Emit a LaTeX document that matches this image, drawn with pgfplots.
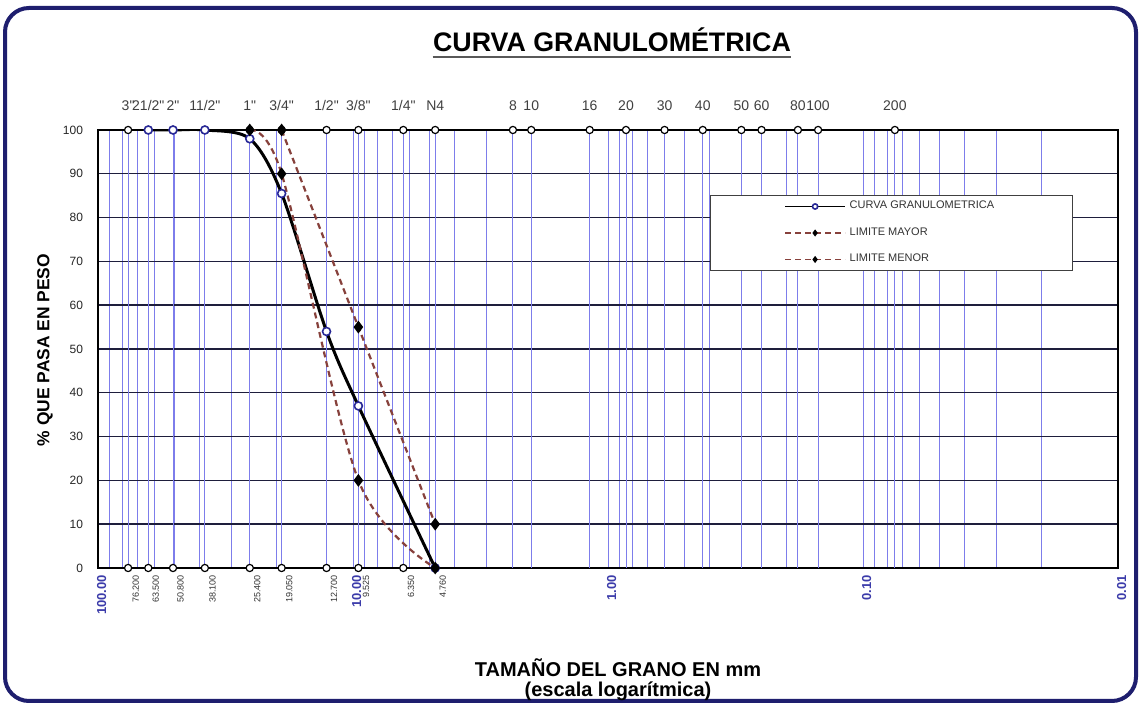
\documentclass[border=0pt]{standalone}
\usepackage{fontspec}
\setmainfont{Liberation Sans}
\newfontfamily\qfont{Liberation Sans}
\usepackage{pgfplots}
\pgfplotsset{compat=1.18}
\definecolor{navyframe}{RGB}{30,30,110}
\definecolor{tickblue}{RGB}{60,60,170}
\definecolor{minorblue}{RGB}{125,125,235}
\definecolor{gridnavy}{RGB}{30,30,60}
\definecolor{sievegray}{RGB}{85,85,85}
\definecolor{limbrown}{RGB}{135,65,60}
\definecolor{markblue}{RGB}{40,40,150}
\newcommand{\qq}{{\qfont\symbol{34}}}
\begin{document}
\begin{tikzpicture}[x=1pt,y=1pt]
\useasboundingbox (0,0) rectangle (570,352.5);
\draw[navyframe, line width=2pt, rounded corners=12pt, fill=white] (2.5,2) rectangle (568,348.5);
\node[inner sep=0pt, anchor=base] (T) at (306,326.5) {\fontsize{13.4}{15}\selectfont\bfseries CURVA GRANULOMÉTRICA};
\draw[black!65, line width=1.4pt] ([yshift=-2.5pt]T.base west) -- ([yshift=-2.5pt]T.base east);
\node[rotate=90, inner sep=0pt] at (22.5,177.5) {\fontsize{8.7}{10}\selectfont\bfseries \% QUE PASA EN PESO};
\node[inner sep=0pt, anchor=base] at (309,14) {\fontsize{10}{12}\selectfont\bfseries TAMAÑO DEL GRANO EN mm};
\node[inner sep=0pt, anchor=base] at (309,4.3) {\fontsize{10}{12}\selectfont\bfseries (escala logarítmica)};

\begin{axis}[
  at={(49pt,68.5pt)}, anchor=south west,
  width=510pt, height=219pt, scale only axis,
  xmode=log, x dir=reverse, xmin=0.01, xmax=100,
  ymin=0, ymax=100, ytick={0,10,...,100},
  /pgf/number format/assume math mode=true,
  yticklabel style={font=\fontsize{6}{7}\selectfont, text=black!85, xshift=-4pt},
  xtick={0.01,0.1,1,10,100},
  xticklabels={0.01,0.10,1.00,10.00,100.00},
  xticklabel style={rotate=90, anchor=east, font=\fontsize{6.5}{7}\selectfont\bfseries, text=tickblue, yshift=-1.8pt},
  minor xtick={0.02,0.03,0.04,0.05,0.06,0.07,0.08,0.09,0.2,0.3,0.4,0.5,0.6,0.7,0.8,0.9,2,3,4,5,6,7,8,9,20,30,40,50,60,70,80,90},
  extra x ticks={76.2,63.5,50.8,38.1,25.4,19.05,12.7,9.525,6.35,4.76,2.36,2,1.18,0.85,0.6,0.425,0.3,0.25,0.18,0.15,0.075},
  extra x tick labels={76.200,63.500,50.800,38.100,25.400,19.050,12.700,9.525,6.350,4.760,,,,,,,,,,,},
  extra x tick style={grid=major, major grid style={sievegray, line width=0.7pt},
    xticklabel style={font=\fontsize{4.5}{5}\selectfont\mdseries, text=black!80, yshift=-2pt}},
  xmajorgrids, xminorgrids, ymajorgrids,
  major x grid style={minorblue, line width=0.5pt},
  minor grid style={minorblue, line width=0.5pt},
  major y grid style={gridnavy, line width=0.7pt},
  major tick length=0pt, minor tick length=0pt,
  axis line style={black, line width=0.9pt},
  legend style={at={(0.6,0.8516)}, anchor=north west, draw=black!75, line width=0.5pt,
    inner xsep=37pt, inner ysep=0.5pt, row sep=3.25pt,
    nodes={minimum height=10pt, inner ysep=0pt, font=\fontsize{5.5}{6}\selectfont, text=black!80}},
  legend cell align=left,
  legend image code/.code={\draw[mark repeat=2,mark phase=2,#1] plot coordinates {(0pt,0pt) (15pt,0pt) (30pt,0pt)};},
  legend image post style={line width=0.6pt, mark size=1.3pt},
]
% sieve markers along top and bottom
\addplot[forget plot, only marks, mark=*, mark size=1.8pt, mark options={fill=white, draw=black, line width=0.6pt}]
  coordinates {(76.2,100)(63.5,100)(50.8,100)(38.1,100)(25.4,100)(19.05,100)(12.7,100)(9.525,100)(6.35,100)(4.76,100)
  (2.36,100)(2,100)(1.18,100)(0.85,100)(0.6,100)(0.425,100)(0.3,100)(0.25,100)(0.18,100)(0.15,100)(0.075,100)};
\addplot[forget plot, only marks, mark=*, mark size=1.8pt, mark options={fill=white, draw=black, line width=0.6pt}]
  coordinates {(76.2,0)(63.5,0)(50.8,0)(38.1,0)(25.4,0)(19.05,0)(12.7,0)(9.525,0)(6.35,0)(4.76,0)};
% curve
\addplot[black, line width=1.5pt, smooth, mark=*, mark size=2pt, mark options={fill=white, draw=markblue, line width=0.8pt, solid}]
  coordinates {(63.5,100)(50.8,100)(38.1,100)(25.4,98)(19.05,85.5)(12.7,54)(9.525,37)(4.76,0)};
\addlegendentry{CURVA GRANULOMETRICA}
\addplot[limbrown, dashed, dash pattern=on 3pt off 2pt, line width=1.1pt, smooth, mark=diamond*, mark size=2.3pt, mark options={solid, fill=black, draw=black}]
  coordinates {(19.05,100)(9.525,55)(4.76,10)};
\addlegendentry{LIMITE MAYOR}
\addplot[limbrown, dashed, dash pattern=on 3pt off 2pt, line width=1.1pt, smooth, mark=diamond*, mark size=2.3pt, mark options={solid, fill=black, draw=black}]
  coordinates {(25.4,100)(19.05,90)(9.525,20)(4.76,0)};
\addlegendentry{LIMITE MENOR}
\end{axis}

\begin{axis}[
  at={(49pt,68.5pt)}, anchor=south west,
  width=510pt, height=219pt, scale only axis,
  xmode=log, x dir=reverse, xmin=0.01, xmax=100,
  ymin=0, ymax=100, ytick=\empty,
  axis line style={draw=none}, major tick length=0pt,
  xticklabel pos=upper,
  xtick={76.2,63.5,50.8,38.1,25.4,19.05,12.7,9.525,6.35,4.76,2.36,2,1.18,0.85,0.6,0.425,0.3,0.25,0.18,0.15,0.075},
  xticklabels={3\qq,21/2\qq,2\qq,11/2\qq,1\qq,3/4\qq,1/2\qq,3/8\qq,1/4\qq,N4,8,10,16,20,30,40,50,60,80,100,200},
  xticklabel style={font=\fontsize{7}{8}\selectfont, text=black!75, yshift=6pt},
]
\end{axis}
\end{tikzpicture}
\end{document}
